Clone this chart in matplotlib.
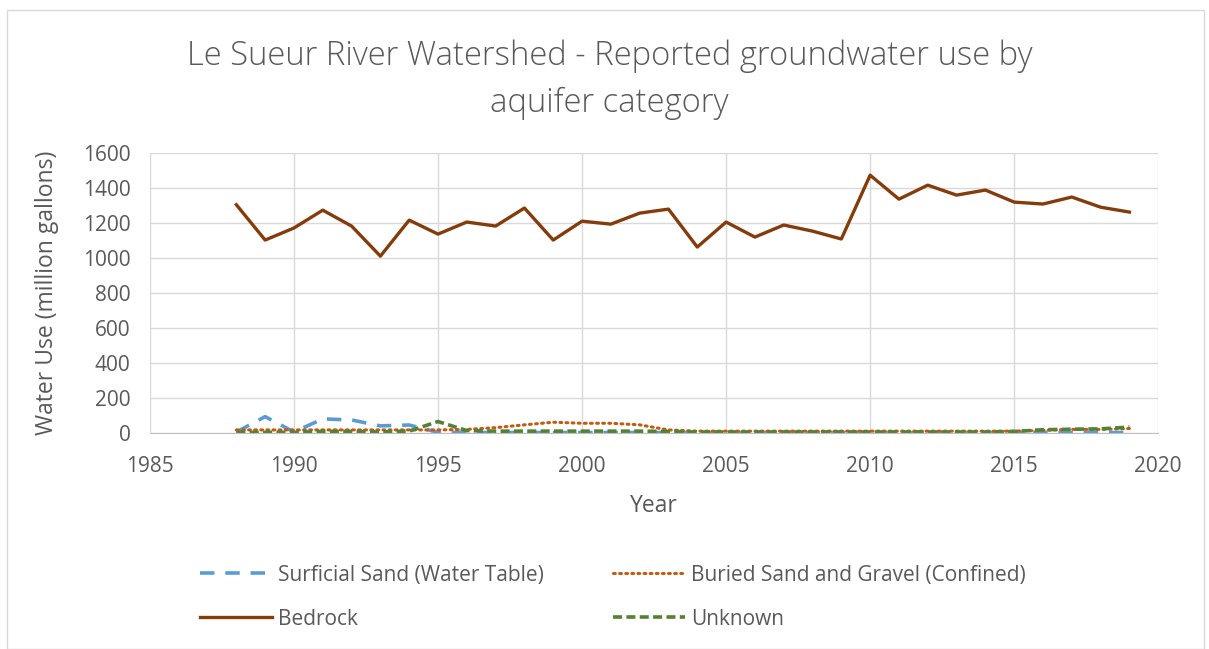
import matplotlib
matplotlib.use("Agg")
import matplotlib.pyplot as plt
from matplotlib.patches import Rectangle

years = list(range(1988, 2020))
bedrock = [1305, 1103, 1172, 1274, 1183, 1011, 1217, 1137, 1206, 1183, 1286, 1103,
           1211, 1194, 1257, 1280, 1063, 1206, 1120, 1189, 1154, 1109, 1474, 1337,
           1417, 1360, 1389, 1320, 1309, 1349, 1291, 1263]
surficial = [5, 93, 5, 80, 74, 40, 45, 3, 2, 2, 2, 2,
             2, 2, 2, 2, 2, 2, 2, 2, 2, 2, 2, 2,
             2, 2, 2, 2, 3, 2, 2, 2]
buried = [17, 17, 17, 17, 17, 17, 17, 17, 20, 30, 46, 61,
          55, 55, 46, 17, 10, 10, 10, 10, 10, 10, 10, 10,
          10, 10, 10, 10, 15, 20, 20, 25]
unknown = [3, 3, 3, 8, 8, 5, 10, 65, 13, 10, 10, 10,
           10, 10, 10, 8, 5, 5, 5, 5, 5, 5, 5, 5,
           5, 5, 5, 8, 18, 21, 23, 33]

series_names = ["Surficial Sand (Water Table)", "Buried Sand and Gravel (Confined)",
                "Bedrock", "Unknown"]
title = "Le Sueur River Watershed - Reported groundwater use by\naquifer category"
xlabel = "Year"
ylabel = "Water Use (million gallons)"

TXT = "#595959"
plt.rcParams['font.family'] = ['Open Sans', 'DejaVu Sans']

fig = plt.figure(figsize=(12.09, 6.49), dpi=100)
fig.patches.append(Rectangle((0.006, 0.0), 0.99, 0.985, transform=fig.transFigure,
                             fill=False, edgecolor="#d9d9d9", linewidth=1))
ax = fig.add_axes([0.124, 0.333, 0.834, 0.431])

l1, = ax.plot(years, surficial, color="#5b9bd5", lw=2.6, linestyle=(0, (4, 3)))
l2, = ax.plot(years, buried, color="#c55a11", lw=2.2, linestyle=(0, (0.6, 1.4)),
              dash_capstyle="round")
l3, = ax.plot(years, bedrock, color="#843c0c", lw=2.4)
l4, = ax.plot(years, unknown, color="#548235", lw=2.6, linestyle=(0, (2.5, 1.2)))

ax.set_xlim(1985, 2020)
ax.set_ylim(0, 1600)
ax.set_xticks(range(1985, 2021, 5))
ax.set_yticks(range(0, 1601, 200))
ax.grid(True, color="#d9d9d9", lw=1)
ax.set_axisbelow(True)
for s in ["top", "right", "left"]:
    ax.spines[s].set_visible(False)
ax.spines["bottom"].set_color("#bfbfbf")
ax.tick_params(axis="both", length=0, labelsize=15, colors=TXT)
ax.tick_params(axis="x", pad=17)
ax.tick_params(axis="y", pad=14)

ax.set_xlabel(xlabel, fontsize=16.5, color=TXT, labelpad=12)
ax.set_ylabel(ylabel, fontsize=16.5, color=TXT, labelpad=17)
fig.text(0.504, 0.877, title, ha="center", va="center", fontsize=23.6, color=TXT,
         linespacing=1.55, fontweight="light")

fig.legend([l1, l3, l2, l4], [series_names[0], series_names[2], series_names[1], series_names[3]],
           ncol=2, loc="center",
           bbox_to_anchor=(0.507, 0.08), frameon=False, fontsize=15,
           labelcolor=TXT, handlelength=3.45, handletextpad=0.3,
           columnspacing=3.3, labelspacing=1.1)

fig.savefig("out.png", dpi=100)
